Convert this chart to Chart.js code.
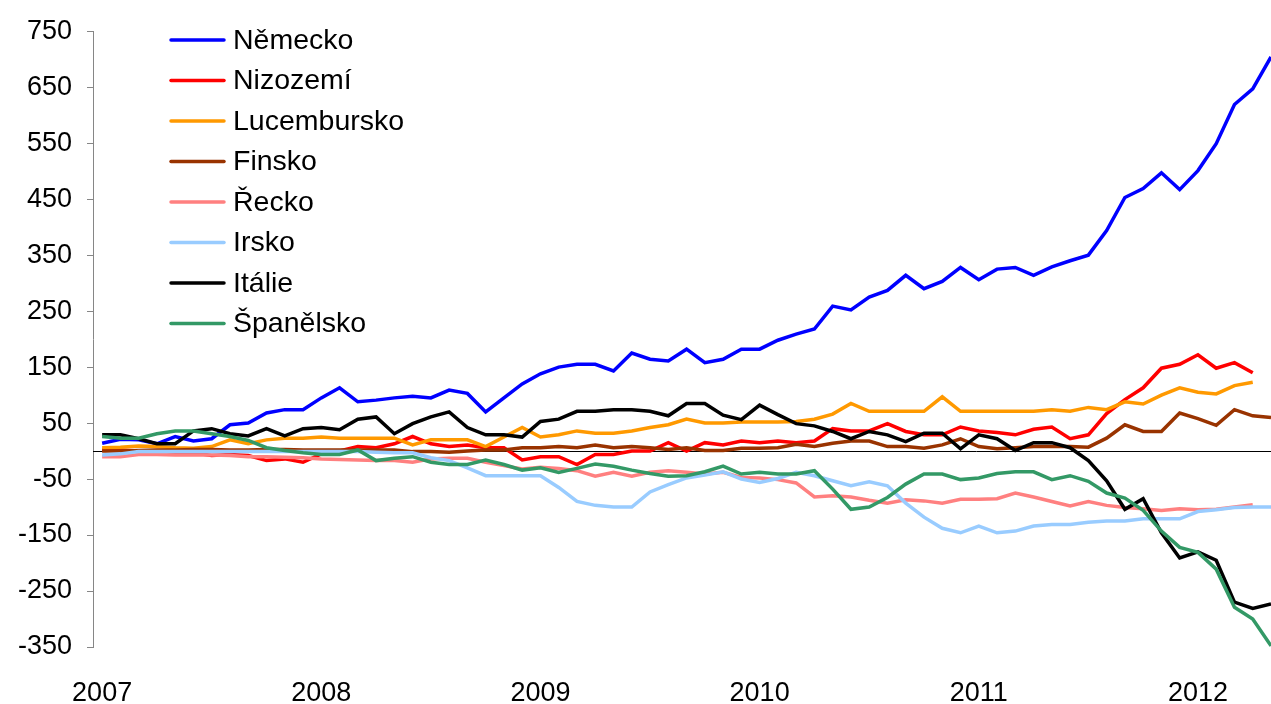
<!DOCTYPE html>
<html>
<head>
<meta charset="utf-8">
<script src="https://cdn.jsdelivr.net/npm/chart.js@4"></script>
<style>
html,body{margin:0;padding:0;background:#fff;}
#wrap{position:relative;width:1271px;height:704px;}
</style>
</head>
<body>
<div id="wrap"><canvas id="c"></canvas></div>
<script>
// Monthly categories, Jan 2007 – May 2012
const months = [
 '2007-01','2007-02','2007-03','2007-04','2007-05','2007-06','2007-07','2007-08','2007-09','2007-10','2007-11','2007-12',
 '2008-01','2008-02','2008-03','2008-04','2008-05','2008-06','2008-07','2008-08','2008-09','2008-10','2008-11','2008-12',
 '2009-01','2009-02','2009-03','2009-04','2009-05','2009-06','2009-07','2009-08','2009-09','2009-10','2009-11','2009-12',
 '2010-01','2010-02','2010-03','2010-04','2010-05','2010-06','2010-07','2010-08','2010-09','2010-10','2010-11','2010-12',
 '2011-01','2011-02','2011-03','2011-04','2011-05','2011-06','2011-07','2011-08','2011-09','2011-10','2011-11','2011-12',
 '2012-01','2012-02','2012-03','2012-04','2012-05'
];
const yearLabels = ['2007','2008','2009','2010','2011','2012'];
const yearTickMonths = ['2007-01','2008-01','2009-01','2010-01','2011-01','2012-01'];

const nemecko = [14,21,20,13,26,18,22,47,50,68,74,74,95,113,88,91,95,98,95,109,103,70,95,120,138,150,155,155,143,175,164,161,182,158,164,182,182,198,209,218,259,252,275,287,314,290,303,328,306,325,328,314,329,340,350,394,453,469,497,467,501,549,619,647,704];
const nizozemi = [3,2,0,-2,-3,-3,-8,-6,-8,-17,-14,-20,-5,0,8,6,13,26,13,8,11,6,6,-16,-10,-10,-24,-6,-6,0,0,15,0,15,11,18,15,18,15,18,40,36,36,49,35,29,29,43,36,33,29,39,43,22,29,67,92,113,148,155,172,148,158,140];
const lucembursko = [6,7,9,8,6,5,8,20,13,20,23,23,25,23,23,23,23,11,20,20,20,8,25,42,25,29,36,32,32,36,42,47,57,50,50,52,52,52,53,57,66,85,71,71,71,71,97,71,71,71,71,71,74,71,78,74,88,84,100,113,105,102,117,123];
const finsko = [0,0,1,2,2,3,3,2,2,3,3,2,2,2,2,2,2,-1,-1,-2,0,2,2,6,6,8,6,11,6,8,6,3,6,1,1,5,5,6,12,8,14,18,18,8,8,5,11,22,8,4,6,8,8,8,7,23,47,35,35,68,58,46,74,63,60];
const recko = [-10,-10,-6,-6,-7,-7,-7,-8,-10,-10,-11,-12,-14,-15,-16,-17,-17,-20,-14,-13,-13,-20,-26,-32,-29,-31,-35,-45,-38,-45,-38,-35,-38,-41,-38,-47,-48,-51,-57,-82,-80,-82,-88,-93,-87,-89,-93,-86,-86,-85,-75,-82,-90,-98,-90,-97,-101,-103,-106,-103,-105,-104,-100,-96];
const irsko = [-7,-5,-1,-1,-1,-1,-1,-1,-1,-1,-1,-1,-1,-1,-1,-2,-3,-3,-12,-17,-30,-44,-44,-44,-44,-65,-90,-97,-100,-100,-73,-60,-48,-43,-37,-50,-56,-49,-38,-44,-53,-62,-55,-62,-93,-118,-138,-146,-134,-146,-143,-134,-131,-131,-127,-125,-125,-121,-121,-121,-108,-105,-101,-100,-100];
const italie = [29,29,22,13,13,36,40,31,27,40,27,40,42,38,57,61,31,49,61,70,42,29,29,25,53,57,71,71,74,74,71,63,85,85,64,56,82,65,49,45,35,22,35,29,17,32,32,4,29,22,1,15,15,6,-17,-53,-104,-85,-146,-191,-180,-195,-270,-281,-273];
const spanelsko = [26,23,23,31,36,36,31,26,19,6,1,-3,-6,-6,2,-17,-13,-10,-20,-24,-24,-16,-24,-34,-30,-38,-31,-23,-27,-34,-40,-45,-44,-37,-27,-41,-38,-41,-41,-35,-68,-104,-100,-83,-59,-41,-41,-51,-48,-40,-37,-37,-51,-44,-54,-75,-84,-106,-143,-172,-181,-211,-279,-300,-348];

const seriesNames = ['Německo','Nizozemí','Lucembursko','Finsko','Řecko','Irsko','Itálie','Španělsko'];
const seriesValues = [nemecko,nizozemi,lucembursko,finsko,recko,irsko,italie,spanelsko];
const seriesColors = ['#0000FF','#FF0000','#FF9900','#993300','#FF8080','#99CCFF','#000000','#339966'];

const FONT = "'Liberation Sans', Arial, sans-serif";

const datasets = seriesNames.map((name, k) => ({
  label: name,
  data: seriesValues[k].map((v, i) => ({x: months.indexOf(months[i]), y: v})),
  borderColor: seriesColors[k],
  backgroundColor: seriesColors[k],
  borderWidth: 3.5,
  pointRadius: 0,
  tension: 0,
  fill: false,
  clip: false,
  order: seriesNames.length - k
}));

const zeroLine = {
  id: 'zeroLine',
  beforeDatasetsDraw(chart) {
    const {ctx, chartArea, scales} = chart;
    const y = Math.round(scales.y.getPixelForValue(0)) + 0.5;
    ctx.save();
    ctx.strokeStyle = '#000000';
    ctx.lineWidth = 1;
    ctx.beginPath();
    ctx.moveTo(chartArea.left, y);
    ctx.lineTo(chartArea.right, y);
    ctx.stroke();
    ctx.restore();
  }
};

const insideLegend = {
  id: 'insideLegend',
  afterDatasetsDraw(chart) {
    const {ctx} = chart;
    ctx.save();
    ctx.font = '28.5px ' + FONT;
    ctx.textBaseline = 'middle';
    ctx.textAlign = 'left';
    seriesNames.forEach((name, k) => {
      const y = 40 + k * 40.5;
      ctx.strokeStyle = seriesColors[k];
      ctx.lineWidth = 3.5;
      ctx.lineCap = 'round';
      ctx.beginPath();
      ctx.moveTo(171, y);
      ctx.lineTo(224, y);
      ctx.stroke();
      ctx.fillStyle = '#000';
      ctx.fillText(name, 233, y + 1);
    });
    ctx.restore();
  }
};

new Chart(document.getElementById('c'), {
  type: 'line',
  data: { datasets },
  plugins: [zeroLine, insideLegend],
  options: {
    responsive: true,
    maintainAspectRatio: false,
    animation: false,
    layout: { padding: { top: 29, right: 0, left: 0, bottom: 0 } },
    plugins: { legend: { display: false }, tooltip: { enabled: false } },
    scales: {
      x: {
        type: 'linear',
        min: -0.5,
        max: months.length - 1,
        afterBuildTicks(scale) {
          scale.ticks = yearTickMonths.map(m => ({ value: months.indexOf(m) }));
        },
        afterFit(scale) { scale.height = 57; },
        grid: { display: false, drawTicks: false },
        border: { display: false },
        ticks: {
          autoSkip: false,
          maxRotation: 0,
          padding: 30,
          color: '#000',
          font: { family: FONT, size: 27 },
          callback(value) {
            const idx = yearTickMonths.indexOf(months[value]);
            return idx >= 0 ? yearLabels[idx] : '';
          }
        }
      },
      y: {
        min: -350,
        max: 750,
        afterFit(scale) { scale.width = 93; },
        grid: { drawOnChartArea: false, drawTicks: true, tickLength: 6, color: '#868686' },
        border: { display: true, color: '#868686', width: 1 },
        ticks: {
          stepSize: 100,
          padding: 15,
          color: '#000',
          font: { family: FONT, size: 27 }
        }
      }
    }
  }
});
</script>
</body>
</html>
